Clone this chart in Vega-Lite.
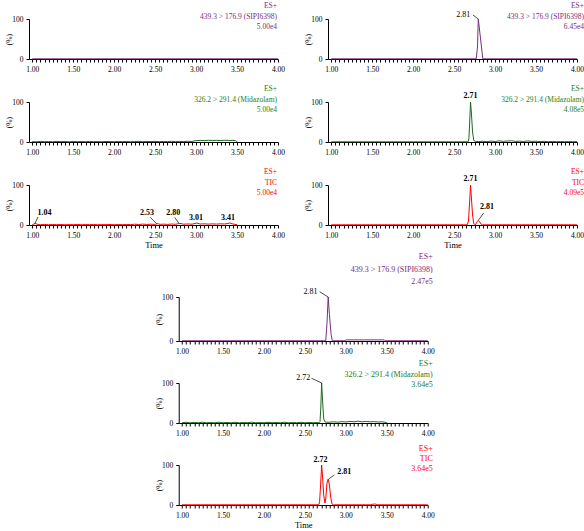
{
  "$schema": "https://vega.github.io/schema/vega-lite/v6.json",
  "padding": {"left": 5, "top": 2, "right": 0, "bottom": 0},
  "background": "white",
  "config": {
    "font": "Liberation Serif",
    "view": {"stroke": null},
    "axis": {"grid": false, "labelFont": "Liberation Serif", "titleFont": "Liberation Serif", "labelFontSize": 7.5, "titleFontSize": 8.5, "titleFontWeight": "normal", "tickSize": 3, "tickColor": "black", "domainColor": "black", "labelColor": "black", "titleColor": "black", "labelOverlap": false, "labelFlush": false, "labelPadding": 3},
    "axisY": {"titlePadding": -2, "labelFontSize": 7.5, "titleFontSize": 7.5},
    "axisX": {"titlePadding": 2}
  },
  "datasets": {
    "p1": [{"t": 1.0, "v": 0.5}, {"t": 4.0, "v": 0.5}],
    "p2": [{"t":1.00,"v":1.0},{"t":1.05,"v":0.5},{"t":1.10,"v":1.5},{"t":1.15,"v":0.8},{"t":1.20,"v":1.2},{"t":1.25,"v":0.6},{"t":1.30,"v":1.4},{"t":1.35,"v":0.9},{"t":1.40,"v":1.1},{"t":1.45,"v":0.5},{"t":1.50,"v":1.3},{"t":1.55,"v":0.8},{"t":1.60,"v":1.2},{"t":1.65,"v":0.7},{"t":1.70,"v":1.5},{"t":1.75,"v":0.9},{"t":1.80,"v":1.1},{"t":1.85,"v":0.6},{"t":1.90,"v":1.3},{"t":1.95,"v":1.0},{"t":2.00,"v":0.7},{"t":2.05,"v":1.4},{"t":2.10,"v":0.9},{"t":2.15,"v":1.2},{"t":2.20,"v":0.6},{"t":2.25,"v":1.1},{"t":2.30,"v":1.5},{"t":2.35,"v":0.8},{"t":2.40,"v":1.2},{"t":2.45,"v":1.0},{"t":2.50,"v":1.6},{"t":2.55,"v":0.9},{"t":2.60,"v":1.3},{"t":2.65,"v":1.1},{"t":2.70,"v":1.7},{"t":2.75,"v":1.0},{"t":2.80,"v":1.4},{"t":2.85,"v":1.2},{"t":2.90,"v":1.8},{"t":2.95,"v":1.3},{"t":3.00,"v":3.5},{"t":3.05,"v":4.0},{"t":3.10,"v":3.6},{"t":3.15,"v":4.2},{"t":3.20,"v":3.8},{"t":3.25,"v":4.1},{"t":3.30,"v":3.7},{"t":3.35,"v":4.3},{"t":3.40,"v":3.9},{"t":3.45,"v":4.0},{"t":3.48,"v":3.6},{"t":3.50,"v":0.5}],
    "p3": [{"t":1.00,"v":0.5},{"t":1.02,"v":2.5},{"t":1.04,"v":4},{"t":1.07,"v":1},{"t":1.10,"v":0.8},{"t":1.15,"v":1.3},{"t":1.20,"v":0.6},{"t":1.25,"v":1.1},{"t":1.30,"v":0.7},{"t":1.35,"v":1.2},{"t":1.40,"v":0.5},{"t":1.45,"v":1.0},{"t":1.50,"v":0.7},{"t":1.55,"v":1.3},{"t":1.60,"v":0.6},{"t":1.65,"v":1.1},{"t":1.70,"v":0.8},{"t":1.75,"v":1.2},{"t":1.80,"v":0.6},{"t":1.85,"v":1.0},{"t":1.90,"v":0.7},{"t":1.95,"v":1.3},{"t":2.00,"v":0.6},{"t":2.05,"v":1.1},{"t":2.10,"v":0.8},{"t":2.15,"v":1.2},{"t":2.20,"v":0.9},{"t":2.25,"v":2.0},{"t":2.30,"v":1.2},{"t":2.35,"v":2.2},{"t":2.40,"v":1.4},{"t":2.45,"v":2.0},{"t":2.50,"v":1.5},{"t":2.53,"v":3.5},{"t":2.56,"v":1.6},{"t":2.60,"v":2.2},{"t":2.65,"v":1.5},{"t":2.70,"v":2.4},{"t":2.75,"v":1.8},{"t":2.80,"v":4.0},{"t":2.85,"v":2.0},{"t":2.90,"v":2.6},{"t":2.95,"v":2.0},{"t":3.01,"v":5.0},{"t":3.05,"v":2.4},{"t":3.10,"v":3.0},{"t":3.15,"v":2.2},{"t":3.20,"v":2.8},{"t":3.25,"v":2.3},{"t":3.30,"v":3.0},{"t":3.35,"v":2.5},{"t":3.41,"v":5.0},{"t":3.45,"v":2.6},{"t":3.50,"v":0.5}],
    "p3lab": [{"t":1.15,"v":31,"label":"1.04"},{"t":2.40,"v":31,"label":"2.53"},{"t":2.72,"v":31,"label":"2.80"},{"t":3.00,"v":18,"label":"3.01"},{"t":3.39,"v":18,"label":"3.41"}],
    "p3lead": [{"t":1.03,"v":3,"t2":1.07,"v2":20},{"t":2.52,"v":3,"t2":2.44,"v2":19},{"t":2.79,"v":4,"t2":2.74,"v2":19}],
    "p4": [{"t":1.0,"v":0.5},{"t":2.77,"v":0.5},{"t":2.785,"v":30},{"t":2.795,"v":100},{"t":2.82,"v":55},{"t":2.85,"v":0.5},{"t":4.0,"v":0.5}],
    "p4lab": [{"t":2.61,"v":110,"label":"2.81"}],
    "p4lead": [{"t":2.795,"v":100,"t2":2.73,"v2":110}],
    "p5": [{"t":1.0,"v":0.5},{"t":1.5,"v":0.5},{"t":2.0,"v":0.5},{"t":2.5,"v":0.5},{"t":2.67,"v":0.5},{"t":2.68,"v":8},{"t":2.69,"v":50},{"t":2.70,"v":100},{"t":2.71,"v":75},{"t":2.725,"v":25},{"t":2.74,"v":4},{"t":2.76,"v":1.5},{"t":2.80,"v":1},{"t":2.85,"v":1.8},{"t":2.90,"v":1},{"t":2.95,"v":2.2},{"t":3.00,"v":1.2},{"t":3.05,"v":3},{"t":3.10,"v":1.5},{"t":3.15,"v":2.5},{"t":3.20,"v":3},{"t":3.25,"v":1.5},{"t":3.30,"v":2.2},{"t":3.35,"v":1.2},{"t":3.40,"v":2.8},{"t":3.45,"v":1.4},{"t":3.50,"v":2},{"t":3.55,"v":1},{"t":3.60,"v":1.6},{"t":3.65,"v":0.8},{"t":3.70,"v":1.4},{"t":3.75,"v":0.8},{"t":3.80,"v":1.2},{"t":3.85,"v":0.7},{"t":3.90,"v":1.1},{"t":3.95,"v":0.7},{"t":4.00,"v":0.9}],
    "p5lab": [{"t":2.70,"v":114,"label":"2.71"}],
    "p6": [{"t":1.0,"v":0.5},{"t":2.66,"v":0.5},{"t":2.675,"v":10},{"t":2.69,"v":60},{"t":2.70,"v":100},{"t":2.71,"v":70},{"t":2.725,"v":25},{"t":2.74,"v":3},{"t":2.76,"v":0.5},{"t":2.78,"v":8},{"t":2.795,"v":12},{"t":2.81,"v":8},{"t":2.83,"v":2},{"t":2.845,"v":0.5},{"t":4.0,"v":0.5}],
    "p6lab": [{"t":2.70,"v":114,"label":"2.71"},{"t":2.90,"v":44,"label":"2.81"}],
    "p6lead": [{"t":2.80,"v":13,"t2":2.86,"v2":30}],
    "p7": [{"t":1.0,"v":0.5},{"t":2.755,"v":0.5},{"t":2.77,"v":40},{"t":2.785,"v":100},{"t":2.80,"v":60},{"t":2.82,"v":15},{"t":2.835,"v":0.5},{"t":2.99,"v":0.5},{"t":3.00,"v":2.5},{"t":3.47,"v":2.5},{"t":3.48,"v":0.5},{"t":4.0,"v":0.5}],
    "p7lab": [{"t":2.57,"v":112,"label":"2.81"}],
    "p7lead": [{"t":2.785,"v":100,"t2":2.68,"v2":112}],
    "p8": [{"t":1.00,"v":0.5},{"t":1.05,"v":1.8},{"t":1.10,"v":0.4},{"t":1.15,"v":1.5},{"t":1.20,"v":0.6},{"t":1.25,"v":2.0},{"t":1.30,"v":0.5},{"t":1.35,"v":1.2},{"t":1.40,"v":0.4},{"t":1.45,"v":1.9},{"t":1.50,"v":0.6},{"t":1.55,"v":1.3},{"t":1.60,"v":0.5},{"t":1.65,"v":1.7},{"t":1.70,"v":0.4},{"t":1.75,"v":1.4},{"t":1.80,"v":0.6},{"t":1.85,"v":2.0},{"t":1.90,"v":0.5},{"t":1.95,"v":1.2},{"t":2.00,"v":0.4},{"t":2.05,"v":1.8},{"t":2.10,"v":0.6},{"t":2.15,"v":1.3},{"t":2.20,"v":0.5},{"t":2.25,"v":1.9},{"t":2.30,"v":0.4},{"t":2.35,"v":1.5},{"t":2.40,"v":0.6},{"t":2.45,"v":1.7},{"t":2.50,"v":0.5},{"t":2.55,"v":1.4},{"t":2.60,"v":0.6},{"t":2.65,"v":1.2},{"t":2.675,"v":0.8},{"t":2.685,"v":3},{"t":2.695,"v":40},{"t":2.705,"v":100},{"t":2.715,"v":60},{"t":2.73,"v":10},{"t":2.745,"v":3},{"t":2.76,"v":2},{"t":2.80,"v":2},{"t":2.85,"v":3},{"t":2.90,"v":2},{"t":2.95,"v":3.5},{"t":3.00,"v":2.5},{"t":3.05,"v":4},{"t":3.10,"v":3},{"t":3.15,"v":4.5},{"t":3.20,"v":3},{"t":3.25,"v":4},{"t":3.30,"v":3},{"t":3.35,"v":3.5},{"t":3.40,"v":2.5},{"t":3.45,"v":3},{"t":3.50,"v":1}],
    "p8lab": [{"t":2.48,"v":112,"label":"2.72"}],
    "p8lead": [{"t":2.705,"v":100,"t2":2.58,"v2":112}],
    "p9": [{"t":1.0,"v":0.5},{"t":2.67,"v":0.5},{"t":2.68,"v":8},{"t":2.695,"v":60},{"t":2.705,"v":100},{"t":2.715,"v":75},{"t":2.73,"v":25},{"t":2.745,"v":5},{"t":2.755,"v":15},{"t":2.77,"v":55},{"t":2.785,"v":65},{"t":2.80,"v":50},{"t":2.815,"v":20},{"t":2.83,"v":3},{"t":2.85,"v":0.5},{"t":3.30,"v":0.5},{"t":3.33,"v":2},{"t":3.36,"v":2.5},{"t":3.39,"v":0.5},{"t":4.0,"v":0.5}],
    "p9lab": [{"t":2.69,"v":112,"label":"2.72"},{"t":2.98,"v":82,"label":"2.81"}],
    "p9lead": [{"t":2.79,"v":65,"t2":2.86,"v2":75}]
  },
  "vconcat": [
    {
      "hconcat": [
        {
          "vconcat": [
            {"width": 249, "height": 40, "layer": [
              {"data": {"name": "p1"}, "mark": {"type": "line", "color": "#7b2d7b", "strokeWidth": 1},
               "encoding": {"x": {"field": "t", "type": "quantitative", "scale": {"domain": [0.96, 4.0], "nice": false, "zero": false}, "axis": {"title": null, "tickCount": 61, "labelExpr": "abs(datum.value*2 - round(datum.value*2)) < 0.001 ? format(datum.value, '.2f') : ''"}},
                            "y": {"field": "v", "type": "quantitative", "scale": {"domain": [0, 100], "nice": false}, "axis": {"title": "(%)", "values": [0,12.5,25,37.5,50,62.5,75,87.5,100], "labelExpr": "datum.value == 0 || datum.value == 100 ? datum.label : ''"}}}},
              {"data": {"values": [{}]}, "mark": {"type": "text", "align": "right", "baseline": "top", "fontSize": 7.5, "lineHeight": 10.5, "color": "#7b2d7b", "dx": -1, "dy": -17},
               "encoding": {"x": {"datum": 4.0}, "y": {"datum": 100}, "text": {"value": ["ES+", "439.3 > 176.9 (SIPI6398)", "5.00e4"]}}}
            ]},
            {"width": 249, "height": 40, "layer": [
              {"data": {"name": "p2"}, "mark": {"type": "line", "color": "#1f6a1f", "strokeWidth": 1},
               "encoding": {"x": {"field": "t", "type": "quantitative", "scale": {"domain": [0.96, 4.0], "nice": false, "zero": false}, "axis": {"title": null, "tickCount": 61, "labelExpr": "abs(datum.value*2 - round(datum.value*2)) < 0.001 ? format(datum.value, '.2f') : ''"}},
                            "y": {"field": "v", "type": "quantitative", "scale": {"domain": [0, 100], "nice": false}, "axis": {"title": "(%)", "values": [0,12.5,25,37.5,50,62.5,75,87.5,100], "labelExpr": "datum.value == 0 || datum.value == 100 ? datum.label : ''"}}}},
              {"data": {"values": [{}]}, "mark": {"type": "text", "align": "right", "baseline": "top", "fontSize": 7.5, "lineHeight": 10.5, "color": "#238023", "dx": -1, "dy": -17},
               "encoding": {"x": {"datum": 4.0}, "y": {"datum": 100}, "text": {"value": ["ES+", "326.2 > 291.4 (Midazolam)", "5.00e4"]}}}
            ]},
            {"width": 249, "height": 40, "layer": [
              {"data": {"name": "p3"}, "mark": {"type": "line", "color": "#ff0000", "strokeWidth": 1},
               "encoding": {"x": {"field": "t", "type": "quantitative", "scale": {"domain": [0.96, 4.0], "nice": false, "zero": false}, "axis": {"title": "Time", "tickCount": 61, "labelExpr": "abs(datum.value*2 - round(datum.value*2)) < 0.001 ? format(datum.value, '.2f') : ''"}},
                            "y": {"field": "v", "type": "quantitative", "scale": {"domain": [0, 100], "nice": false}, "axis": {"title": "(%)", "values": [0,12.5,25,37.5,50,62.5,75,87.5,100], "labelExpr": "datum.value == 0 || datum.value == 100 ? datum.label : ''"}}}},
              {"data": {"name": "p3lead"}, "mark": {"type": "rule", "color": "black", "strokeWidth": 0.7},
               "encoding": {"x": {"field": "t", "type": "quantitative"}, "y": {"field": "v", "type": "quantitative"}, "x2": {"field": "t2"}, "y2": {"field": "v2"}}},
              {"data": {"name": "p3lab"}, "mark": {"type": "text", "fontSize": 8, "fontWeight": "bold", "color": "black", "baseline": "middle"},
               "encoding": {"x": {"field": "t", "type": "quantitative"}, "y": {"field": "v", "type": "quantitative"}, "text": {"field": "label"}}},
              {"data": {"values": [{}]}, "mark": {"type": "text", "align": "right", "baseline": "top", "fontSize": 7.5, "lineHeight": 10.5, "color": "#ff0000", "dx": -1, "dy": -17},
               "encoding": {"x": {"datum": 4.0}, "y": {"datum": 100}, "text": {"value": ["ES+", "TIC", "5.00e4"]}}}
            ]}
          ],
          "spacing": 43, "bounds": "flush"
        },
        {
          "vconcat": [
            {"width": 249, "height": 40, "layer": [
              {"data": {"name": "p4"}, "mark": {"type": "line", "color": "#7b2d7b", "strokeWidth": 1},
               "encoding": {"x": {"field": "t", "type": "quantitative", "scale": {"domain": [0.96, 4.0], "nice": false, "zero": false}, "axis": {"title": null, "tickCount": 61, "labelExpr": "abs(datum.value*2 - round(datum.value*2)) < 0.001 ? format(datum.value, '.2f') : ''"}},
                            "y": {"field": "v", "type": "quantitative", "scale": {"domain": [0, 100], "nice": false}, "axis": {"title": "(%)", "values": [0,12.5,25,37.5,50,62.5,75,87.5,100], "labelExpr": "datum.value == 0 || datum.value == 100 ? datum.label : ''"}}}},
              {"data": {"name": "p4lead"}, "mark": {"type": "rule", "color": "black", "strokeWidth": 0.7},
               "encoding": {"x": {"field": "t", "type": "quantitative"}, "y": {"field": "v", "type": "quantitative"}, "x2": {"field": "t2"}, "y2": {"field": "v2"}}},
              {"data": {"name": "p4lab"}, "mark": {"type": "text", "fontSize": 8, "fontWeight": "normal", "color": "black", "baseline": "middle"},
               "encoding": {"x": {"field": "t", "type": "quantitative"}, "y": {"field": "v", "type": "quantitative"}, "text": {"field": "label"}}},
              {"data": {"values": [{}]}, "mark": {"type": "text", "align": "right", "baseline": "top", "fontSize": 7.5, "lineHeight": 10.5, "color": "#7b2d7b", "dx": 7, "dy": -17},
               "encoding": {"x": {"datum": 4.0}, "y": {"datum": 100}, "text": {"value": ["ES+", "439.3 > 176.9 (SIPI6398)", "6.45e4"]}}}
            ]},
            {"width": 249, "height": 40, "layer": [
              {"data": {"name": "p5"}, "mark": {"type": "line", "color": "#1f6a1f", "strokeWidth": 1},
               "encoding": {"x": {"field": "t", "type": "quantitative", "scale": {"domain": [0.96, 4.0], "nice": false, "zero": false}, "axis": {"title": null, "tickCount": 61, "labelExpr": "abs(datum.value*2 - round(datum.value*2)) < 0.001 ? format(datum.value, '.2f') : ''"}},
                            "y": {"field": "v", "type": "quantitative", "scale": {"domain": [0, 100], "nice": false}, "axis": {"title": "(%)", "values": [0,12.5,25,37.5,50,62.5,75,87.5,100], "labelExpr": "datum.value == 0 || datum.value == 100 ? datum.label : ''"}}}},
              {"data": {"name": "p5lab"}, "mark": {"type": "text", "fontSize": 8, "fontWeight": "bold", "color": "black", "baseline": "middle"},
               "encoding": {"x": {"field": "t", "type": "quantitative"}, "y": {"field": "v", "type": "quantitative"}, "text": {"field": "label"}}},
              {"data": {"values": [{}]}, "mark": {"type": "text", "align": "right", "baseline": "top", "fontSize": 7.5, "lineHeight": 10.5, "color": "#238023", "dx": 7, "dy": -17},
               "encoding": {"x": {"datum": 4.0}, "y": {"datum": 100}, "text": {"value": ["ES+", "326.2 > 291.4 (Midazolam)", "4.08e5"]}}}
            ]},
            {"width": 249, "height": 40, "layer": [
              {"data": {"name": "p6"}, "mark": {"type": "line", "color": "#ff0000", "strokeWidth": 1},
               "encoding": {"x": {"field": "t", "type": "quantitative", "scale": {"domain": [0.96, 4.0], "nice": false, "zero": false}, "axis": {"title": "Time", "tickCount": 61, "labelExpr": "abs(datum.value*2 - round(datum.value*2)) < 0.001 ? format(datum.value, '.2f') : ''"}},
                            "y": {"field": "v", "type": "quantitative", "scale": {"domain": [0, 100], "nice": false}, "axis": {"title": "(%)", "values": [0,12.5,25,37.5,50,62.5,75,87.5,100], "labelExpr": "datum.value == 0 || datum.value == 100 ? datum.label : ''"}}}},
              {"data": {"name": "p6lead"}, "mark": {"type": "rule", "color": "black", "strokeWidth": 0.7},
               "encoding": {"x": {"field": "t", "type": "quantitative"}, "y": {"field": "v", "type": "quantitative"}, "x2": {"field": "t2"}, "y2": {"field": "v2"}}},
              {"data": {"name": "p6lab"}, "mark": {"type": "text", "fontSize": 8, "fontWeight": "bold", "color": "black", "baseline": "middle"},
               "encoding": {"x": {"field": "t", "type": "quantitative"}, "y": {"field": "v", "type": "quantitative"}, "text": {"field": "label"}}},
              {"data": {"values": [{}]}, "mark": {"type": "text", "align": "right", "baseline": "top", "fontSize": 7.5, "lineHeight": 10.5, "color": "#ff0000", "dx": 7, "dy": -17},
               "encoding": {"x": {"datum": 4.0}, "y": {"datum": 100}, "text": {"value": ["ES+", "TIC", "4.09e5"]}}}
            ]}
          ],
          "spacing": 43, "bounds": "flush"
        }
      ],
      "spacing": 19
    },
    {
      "vconcat": [
        {"width": 249, "height": 44, "layer": [
          {"data": {"name": "p7"}, "mark": {"type": "line", "color": "#7b2d7b", "strokeWidth": 1},
           "encoding": {"x": {"field": "t", "type": "quantitative", "scale": {"domain": [0.96, 4.0], "nice": false, "zero": false}, "axis": {"title": null, "tickCount": 61, "labelExpr": "abs(datum.value*2 - round(datum.value*2)) < 0.001 ? format(datum.value, '.2f') : ''"}},
                        "y": {"field": "v", "type": "quantitative", "scale": {"domain": [0, 100], "nice": false}, "axis": {"title": "(%)", "values": [0,12.5,25,37.5,50,62.5,75,87.5,100], "labelExpr": "datum.value == 0 || datum.value == 100 ? datum.label : ''"}}}},
          {"data": {"name": "p7lead"}, "mark": {"type": "rule", "color": "black", "strokeWidth": 0.7},
           "encoding": {"x": {"field": "t", "type": "quantitative"}, "y": {"field": "v", "type": "quantitative"}, "x2": {"field": "t2"}, "y2": {"field": "v2"}}},
          {"data": {"name": "p7lab"}, "mark": {"type": "text", "fontSize": 8, "fontWeight": "normal", "color": "black", "baseline": "middle"},
           "encoding": {"x": {"field": "t", "type": "quantitative"}, "y": {"field": "v", "type": "quantitative"}, "text": {"field": "label"}}},
          {"data": {"values": [{}]}, "mark": {"type": "text", "align": "right", "baseline": "top", "fontSize": 8, "lineHeight": 12.5, "color": "#7b2d7b", "dx": 5, "dy": -44},
           "encoding": {"x": {"datum": 4.0}, "y": {"datum": 100}, "text": {"value": ["ES+", "439.3 > 176.9 (SIPI6398)", "2.47e5"]}}}
        ]},
        {"width": 249, "height": 40, "layer": [
          {"data": {"name": "p8"}, "mark": {"type": "line", "color": "#1f6a1f", "strokeWidth": 1},
           "encoding": {"x": {"field": "t", "type": "quantitative", "scale": {"domain": [0.96, 4.0], "nice": false, "zero": false}, "axis": {"title": null, "tickCount": 61, "labelExpr": "abs(datum.value*2 - round(datum.value*2)) < 0.001 ? format(datum.value, '.2f') : ''"}},
                        "y": {"field": "v", "type": "quantitative", "scale": {"domain": [0, 100], "nice": false}, "axis": {"title": "(%)", "values": [0,12.5,25,37.5,50,62.5,75,87.5,100], "labelExpr": "datum.value == 0 || datum.value == 100 ? datum.label : ''"}}}},
          {"data": {"name": "p8lead"}, "mark": {"type": "rule", "color": "black", "strokeWidth": 0.7},
           "encoding": {"x": {"field": "t", "type": "quantitative"}, "y": {"field": "v", "type": "quantitative"}, "x2": {"field": "t2"}, "y2": {"field": "v2"}}},
          {"data": {"name": "p8lab"}, "mark": {"type": "text", "fontSize": 8, "fontWeight": "normal", "color": "black", "baseline": "middle"},
           "encoding": {"x": {"field": "t", "type": "quantitative"}, "y": {"field": "v", "type": "quantitative"}, "text": {"field": "label"}}},
          {"data": {"values": [{}]}, "mark": {"type": "text", "align": "right", "baseline": "top", "fontSize": 8, "lineHeight": 10.5, "color": "#238023", "dx": 5, "dy": -23},
           "encoding": {"x": {"datum": 4.0}, "y": {"datum": 100}, "text": {"value": ["ES+", "326.2 > 291.4 (Midazolam)", "3.64e5"]}}}
        ]},
        {"width": 249, "height": 40, "layer": [
          {"data": {"name": "p9"}, "mark": {"type": "line", "color": "#ff0000", "strokeWidth": 1},
           "encoding": {"x": {"field": "t", "type": "quantitative", "scale": {"domain": [0.96, 4.0], "nice": false, "zero": false}, "axis": {"title": "Time", "tickCount": 61, "labelExpr": "abs(datum.value*2 - round(datum.value*2)) < 0.001 ? format(datum.value, '.2f') : ''"}},
                        "y": {"field": "v", "type": "quantitative", "scale": {"domain": [0, 100], "nice": false}, "axis": {"title": "(%)", "values": [0,12.5,25,37.5,50,62.5,75,87.5,100], "labelExpr": "datum.value == 0 || datum.value == 100 ? datum.label : ''"}}}},
          {"data": {"name": "p9lead"}, "mark": {"type": "rule", "color": "black", "strokeWidth": 0.7},
           "encoding": {"x": {"field": "t", "type": "quantitative"}, "y": {"field": "v", "type": "quantitative"}, "x2": {"field": "t2"}, "y2": {"field": "v2"}}},
          {"data": {"name": "p9lab"}, "mark": {"type": "text", "fontSize": 8, "fontWeight": "bold", "color": "black", "baseline": "middle"},
           "encoding": {"x": {"field": "t", "type": "quantitative"}, "y": {"field": "v", "type": "quantitative"}, "text": {"field": "label"}}},
          {"data": {"values": [{}]}, "mark": {"type": "text", "align": "right", "baseline": "top", "fontSize": 8, "lineHeight": 10, "color": "#ff0000", "dx": 5, "dy": -20},
           "encoding": {"x": {"datum": 4.0}, "y": {"datum": 100}, "text": {"value": ["ES+", "TIC", "3.64e5"]}}}
        ]}
      ],
      "spacing": 42, "bounds": "flush"
    }
  ],
  "spacing": 4,
  "center": true
}
